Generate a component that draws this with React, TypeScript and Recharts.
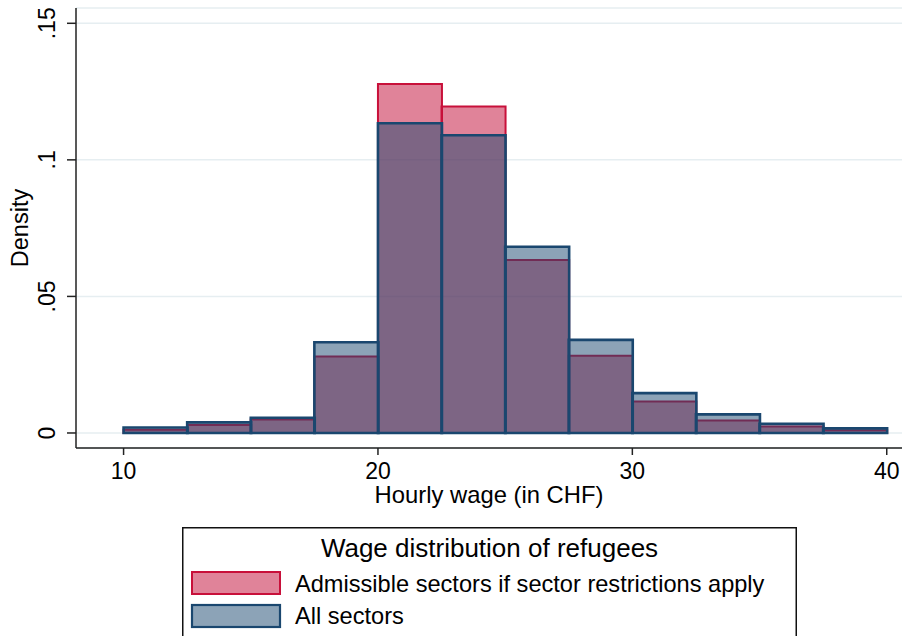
import React from "react";
import {
  ComposedChart,
  Bar,
  XAxis,
  YAxis,
  CartesianGrid,
  Legend,
} from "recharts";

// Histogram bins (bin width 2.5 CHF), identified by their centres
const binCenters = [11.25, 13.75, 16.25, 18.75, 21.25, 23.75, 26.25, 28.75, 31.25, 33.75, 36.25, 38.75];
// Density: admissible sectors if sector restrictions apply
const admissibleDensity = [0.0012, 0.0029, 0.0049, 0.028, 0.1278, 0.1195, 0.0633, 0.0283, 0.0115, 0.0046, 0.0024, 0.001];
// Density: all sectors
const allSectorsDensity = [0.002, 0.0039, 0.0056, 0.0332, 0.1134, 0.109, 0.0682, 0.0341, 0.0146, 0.0068, 0.0034, 0.0017];

const xTicks = [10, 20, 30, 40];
const yTicks = [0, 0.05, 0.1, 0.15];
const yTickLabels = ["0", ".05", ".1", ".15"];

const legendTitle = "Wage distribution of refugees";
const seriesNames = ["Admissible sectors if sector restrictions apply", "All sectors"];
const xTitle = "Hourly wage (in CHF)";
const yTitle = "Density";

const data = binCenters.map((x, i) => ({
  x,
  admissible: admissibleDensity[i],
  all: allSectorsDensity[i],
}));

const FONT = "'Liberation Sans', Arial, Helvetica, sans-serif";
const RED = "#c10733";
const RED_LINE = "#c8103a";
const BLUE = "#1a476f";

const YTick = (props: any) => {
  const { x, y, payload } = props;
  const idx = yTicks.indexOf(payload.value);
  const label = idx >= 0 ? yTickLabels[idx] : String(payload.value);
  return (
    <text
      x={x}
      y={y}
      transform={`rotate(-90, ${x}, ${y})`}
      textAnchor="middle"
      fontSize={23}
      fontFamily={FONT}
      fill="#000"
    >
      {label}
    </text>
  );
};

const XLabel = (props: any) => {
  const vb = props.viewBox || {};
  return (
    <text
      x={vb.x + vb.width / 2}
      y={vb.y + 55}
      textAnchor="middle"
      fontSize={23.8}
      fontFamily={FONT}
      fill="#000"
    >
      {xTitle}
    </text>
  );
};

const YLabel = (props: any) => {
  const vb = props.viewBox || {};
  const cx = vb.x + 28;
  const cy = vb.y + vb.height / 2;
  return (
    <text
      x={cx}
      y={cy}
      transform={`rotate(-90, ${cx}, ${cy})`}
      textAnchor="middle"
      fontSize={23.5}
      fontFamily={FONT}
      fill="#000"
    >
      {yTitle}
    </text>
  );
};

const LegendBox = () => (
  <svg width={616} height={109} style={{ display: "block" }}>
    <rect x={0.75} y={0.75} width={613.5} height={140} fill="#fff" stroke="#111" strokeWidth={1.5} />
    <text x={307.5} y={30} textAnchor="middle" fontSize={26} fontFamily={FONT} fill="#000">
      {legendTitle}
    </text>
    <rect x={10} y={45} width={88} height={22} fill={RED} fillOpacity={0.5} stroke={RED_LINE} strokeWidth={2} />
    <text x={113} y={65} fontSize={23.6} fontFamily={FONT} fill="#000">
      {seriesNames[0]}
    </text>
    <rect x={10} y={78} width={88} height={22} fill={BLUE} fillOpacity={0.5} stroke={BLUE} strokeWidth={2.2} />
    <text x={113} y={96.5} fontSize={23.6} fontFamily={FONT} fill="#000">
      {seriesNames[1]}
    </text>
  </svg>
);

export default function App() {
  return (
    <div style={{ position: "absolute", left: 0, top: 0, width: 904, height: 636, background: "#fff", fontFamily: FONT }}>
      <ComposedChart
        width={904}
        height={636}
        data={data}
        margin={{ top: 8, right: 2, bottom: 128, left: 0 }}
        barCategoryGap={0}
        barGap={0}
      >
        <CartesianGrid xAxisId="a" vertical={false} stroke="#e6eef1" strokeWidth={1.5} />
        <XAxis
          xAxisId="a"
          type="number"
          dataKey="x"
          domain={[8.13, 40.6]}
          allowDataOverflow
          ticks={xTicks}
          interval={0}
          height={60}
          tickSize={7}
          tickMargin={8}
          axisLine={{ stroke: "#222", strokeWidth: 1.5 }}
          tickLine={{ stroke: "#222", strokeWidth: 1.5 }}
          tick={{ fontSize: 23, fill: "#000", fontFamily: FONT }}
          label={<XLabel />}
        />
        <XAxis
          xAxisId="b"
          type="number"
          dataKey="x"
          domain={[8.13, 40.6]}
          allowDataOverflow
          hide
        />
        <YAxis
          type="number"
          domain={[-0.0055, 0.1556]}
          allowDataOverflow
          ticks={yTicks}
          interval={0}
          width={76}
          tickSize={9}
          tickMargin={12}
          axisLine={{ stroke: "#222", strokeWidth: 1.5 }}
          tickLine={{ stroke: "#222", strokeWidth: 1.5 }}
          tick={<YTick />}
          label={<YLabel />}
        />
        <Bar
          xAxisId="a"
          dataKey="admissible"
          name={seriesNames[0]}
          fill={RED}
          fillOpacity={0.5}
          stroke={RED_LINE}
          strokeWidth={2}
          isAnimationActive={false}
        />
        <Bar
          xAxisId="b"
          dataKey="all"
          name={seriesNames[1]}
          fill={BLUE}
          fillOpacity={0.5}
          stroke={BLUE}
          strokeWidth={2.6}
          isAnimationActive={false}
        />
        <Legend
          layout="vertical"
          verticalAlign="middle"
          align="center"
          wrapperStyle={{ position: "absolute", left: 182, top: 527, width: 616, height: 109 }}
          content={<LegendBox />}
        />
      </ComposedChart>
    </div>
  );
}
